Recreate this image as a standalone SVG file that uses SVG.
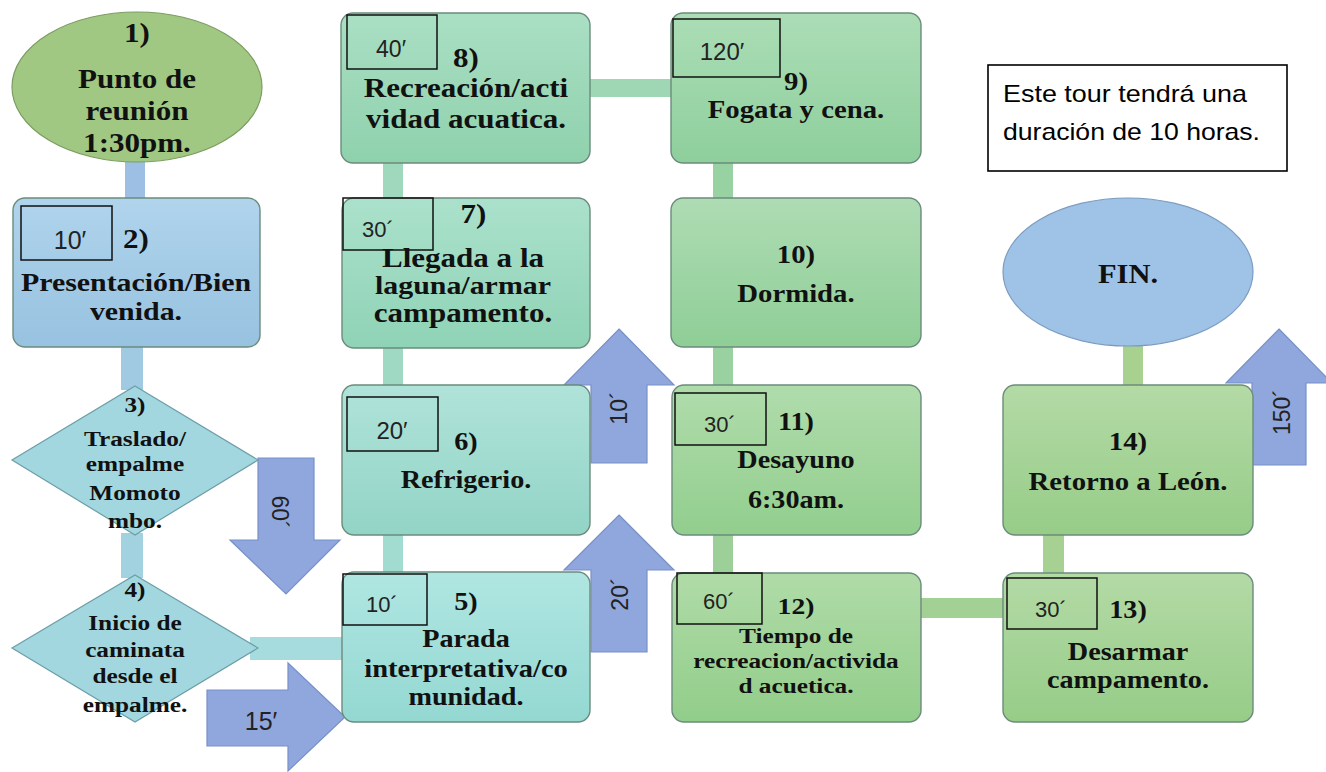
<svg xmlns="http://www.w3.org/2000/svg" width="1326" height="772" viewBox="0 0 1326 772">
<defs>
<linearGradient id="gBlue" x1="0" y1="0" x2="0" y2="1"><stop offset="0" stop-color="#b0d4ec"/><stop offset="1" stop-color="#97c2e0"/></linearGradient>
<linearGradient id="gN5" x1="0" y1="0" x2="0" y2="1"><stop offset="0" stop-color="#b0e6e2"/><stop offset="1" stop-color="#94d8d2"/></linearGradient>
<linearGradient id="gN6" x1="0" y1="0" x2="0" y2="1"><stop offset="0" stop-color="#b0e3d9"/><stop offset="1" stop-color="#92d4c6"/></linearGradient>
<linearGradient id="gN7" x1="0" y1="0" x2="0" y2="1"><stop offset="0" stop-color="#abe1cc"/><stop offset="1" stop-color="#8fd3b6"/></linearGradient>
<linearGradient id="gN8" x1="0" y1="0" x2="0" y2="1"><stop offset="0" stop-color="#aadfc4"/><stop offset="1" stop-color="#8fd1ad"/></linearGradient>
<linearGradient id="gN9" x1="0" y1="0" x2="0" y2="1"><stop offset="0" stop-color="#acddb6"/><stop offset="1" stop-color="#8ecf9c"/></linearGradient>
<linearGradient id="gN10" x1="0" y1="0" x2="0" y2="1"><stop offset="0" stop-color="#aedcb3"/><stop offset="1" stop-color="#8fce97"/></linearGradient>
<linearGradient id="gN11" x1="0" y1="0" x2="0" y2="1"><stop offset="0" stop-color="#b0dcac"/><stop offset="1" stop-color="#92ce8e"/></linearGradient>
<linearGradient id="gN12" x1="0" y1="0" x2="0" y2="1"><stop offset="0" stop-color="#b0dba8"/><stop offset="1" stop-color="#92cd8a"/></linearGradient>
<linearGradient id="gN13" x1="0" y1="0" x2="0" y2="1"><stop offset="0" stop-color="#b4daa6"/><stop offset="1" stop-color="#96cc88"/></linearGradient>
</defs>
<style>
.node{stroke:#6b8c7c;stroke-width:1.4}
.dia{fill:#a2d7e0;stroke:#6c9ea8;stroke-width:1.2}
.tbox{fill:none;stroke:#111;stroke-width:1.5}
.t{font-family:"Liberation Serif","Times New Roman",serif;font-weight:bold;fill:#111;text-anchor:middle}
.s{font-family:"Liberation Sans",Arial,sans-serif;fill:#222;text-anchor:middle}
.arr{fill:#8fa7dc;stroke:#7890c9;stroke-width:1.2}
</style>
<rect width="1326" height="772" fill="#ffffff"/>

<g id="connectors">
<rect x="125" y="160" width="20" height="40" fill="#9dbfe3"/>
<rect x="121" y="345" width="22" height="45" fill="#a0c9e2"/>
<rect x="121" y="533" width="22" height="45" fill="#a2d2df"/>
<rect x="250" y="637" width="95" height="23" fill="#a6dcdd"/>
<rect x="383" y="533" width="20" height="41" fill="#a2dbd0"/>
<rect x="383" y="345" width="20" height="42" fill="#9fd9c4"/>
<rect x="383" y="160" width="20" height="40" fill="#9fd8bd"/>
<rect x="588" y="79" width="85" height="18" fill="#9fd7b4"/>
<rect x="713" y="160" width="20" height="40" fill="#98d2a3"/>
<rect x="713" y="345" width="20" height="42" fill="#9ad1a0"/>
<rect x="713" y="533" width="20" height="42" fill="#9dd098"/>
<rect x="919" y="598" width="86" height="20" fill="#a2d095"/>
<rect x="1043" y="533" width="21" height="42" fill="#a6d192"/>
<rect x="1123" y="343" width="20" height="44" fill="#a8d08e"/>
</g>

<g id="duration-arrows">
<g id="arrow-60"><polygon class="arr" points="258,458 314,458 314,540 340,540 286,594 230,540 258,540"/>
<text class="s" font-size="23" transform="translate(280,512) rotate(90)" dominant-baseline="central">60´</text></g>
<g id="arrow-15"><polygon class="arr" points="207,690 288,690 288,663 345,717 288,771 288,746 207,746"/>
<text class="s" font-size="25" x="261" y="730">15′</text></g>
<g id="arrow-10"><polygon class="arr" points="619,329 674,385 647,385 647,463 591,463 591,385 564,385"/>
<text class="s" font-size="23" transform="translate(619,408) rotate(-90)" dominant-baseline="central">10´</text></g>
<g id="arrow-20"><polygon class="arr" points="619,515 674,570 647,570 647,652 591,652 591,570 564,570"/>
<text class="s" font-size="23" transform="translate(620,594) rotate(-90)" dominant-baseline="central">20´</text></g>
<g id="arrow-150"><polygon class="arr" points="1279,329 1332,383 1306,383 1306,465 1252,465 1252,383 1226,383"/>
<text class="s" font-size="23" transform="translate(1282,412) rotate(-90)" dominant-baseline="central">150´</text></g>
</g>

<g id="node1">
<ellipse cx="137" cy="87" rx="125" ry="75" fill="#a1c882" stroke="#7c9c62" stroke-width="1.2"/>
<g transform="matrix(1.15 0 0 1 -20.55 0)">
<text class="t" font-size="27" x="137" y="42">1)</text>
<text class="t" font-size="27" x="137" y="88">Punto de</text>
<text class="t" font-size="27" x="137" y="120">reunión</text>
<text class="t" font-size="27" x="137" y="152">1:30pm.</text>
</g></g>

<g id="node2">
<rect class="node" x="13" y="198" width="247" height="149" rx="12" fill="url(#gBlue)"/>
<rect class="tbox" x="21" y="206" width="91" height="54"/>
<text class="s" font-size="25" x="70" y="249">10′</text>
<g transform="matrix(1.15 0 0 1 -20.4 0)">
<text class="t" font-size="27" x="136" y="248">2)</text>
<text class="t" font-size="26" x="136" y="291">Presentación/Bien</text>
<text class="t" font-size="26" x="136" y="320">venida.</text>
</g></g>

<g id="node3">
<polygon class="dia" points="135,386 258,460 135,535 12,460"/>
<g transform="matrix(1.15 0 0 1 -20.25 0)">
<text class="t" font-size="22" x="135" y="412">3)</text>
<text class="t" font-size="22" x="135" y="446">Traslado/</text>
<text class="t" font-size="22" x="135" y="471">empalme</text>
<text class="t" font-size="22" x="135" y="500">Momoto</text>
<text class="t" font-size="22" x="135" y="528">mbo.</text>
</g></g>

<g id="node4">
<polygon class="dia" points="135,575 258,648 135,722 12,648"/>
<g transform="matrix(1.15 0 0 1 -20.25 0)">
<text class="t" font-size="22" x="135" y="597">4)</text>
<text class="t" font-size="22" x="135" y="630">Inicio de</text>
<text class="t" font-size="22" x="135" y="657">caminata</text>
<text class="t" font-size="22" x="135" y="683">desde el</text>
<text class="t" font-size="22" x="135" y="712">empalme.</text>
</g></g>

<g id="node5">
<rect class="node" x="342" y="572" width="248" height="150" rx="12" fill="url(#gN5)"/>
<rect class="tbox" x="343" y="574" width="84" height="51"/>
<text class="s" font-size="22" x="382" y="612">10´</text>
<g transform="matrix(1.15 0 0 1 -69.9 0)">
<text class="t" font-size="24.5" x="466" y="610">5)</text>
<text class="t" font-size="24.5" x="466" y="647">Parada</text>
<text class="t" font-size="24.5" x="466" y="677" textLength="177" lengthAdjust="spacingAndGlyphs">interpretativa/co</text>
<text class="t" font-size="24.5" x="466" y="705">munidad.</text>
</g></g>

<g id="node6">
<rect class="node" x="342" y="385" width="248" height="150" rx="12" fill="url(#gN6)"/>
<rect class="tbox" x="347" y="397" width="91" height="54"/>
<text class="s" font-size="24" x="392" y="439">20′</text>
<g transform="matrix(1.15 0 0 1 -69.9 0)">
<text class="t" font-size="24.5" x="466" y="450">6)</text>
<text class="t" font-size="24.5" x="466" y="488">Refrigerio.</text>
</g></g>

<g id="node7">
<rect class="node" x="342" y="198" width="248" height="150" rx="12" fill="url(#gN7)"/>
<rect class="tbox" x="343" y="198" width="90" height="52"/>
<text class="s" font-size="22" x="378" y="237">30´</text>
<g transform="matrix(1.15 0 0 1 -69.45 0)">
<text class="t" font-size="27" x="472" y="223">7)</text>
<text class="t" font-size="27" x="463" y="267">Llegada a la</text>
<text class="t" font-size="26" x="463" y="294">laguna/armar</text>
<text class="t" font-size="27" x="463" y="322">campamento.</text>
</g></g>

<g id="node8">
<rect class="node" x="341" y="13" width="249" height="150" rx="12" fill="url(#gN8)"/>
<rect class="tbox" x="347" y="15" width="90" height="54"/>
<text class="s" font-size="23" x="391" y="57">40′</text>
<g transform="matrix(1.15 0 0 1 -69.9 0)">
<text class="t" font-size="27" x="466" y="67">8)</text>
<text class="t" font-size="27" x="466" y="97">Recreación/acti</text>
<text class="t" font-size="27" x="466" y="128">vidad acuatica.</text>
</g></g>

<g id="node9">
<rect class="node" x="671" y="13" width="250" height="150" rx="12" fill="url(#gN9)"/>
<rect class="tbox" x="673" y="19" width="107" height="58"/>
<text class="s" font-size="24" x="722" y="60">120′</text>
<g transform="matrix(1.15 0 0 1 -119.4 0)">
<text class="t" font-size="25" x="796" y="90">9)</text>
<text class="t" font-size="25" x="796" y="118">Fogata y cena.</text>
</g></g>

<g id="node10">
<rect class="node" x="671" y="198" width="250" height="149" rx="12" fill="url(#gN10)"/>
<g transform="matrix(1.15 0 0 1 -119.4 0)">
<text class="t" font-size="25" x="796" y="263">10)</text>
<text class="t" font-size="25" x="796" y="302">Dormida.</text>
</g></g>

<g id="node11">
<rect class="node" x="672" y="385" width="249" height="150" rx="12" fill="url(#gN11)"/>
<rect class="tbox" x="675" y="393" width="91" height="52"/>
<text class="s" font-size="22" x="720" y="432">30´</text>
<g transform="matrix(1.15 0 0 1 -119.4 0)">
<text class="t" font-size="24.5" x="796" y="430">11)</text>
<text class="t" font-size="24.5" x="796" y="468">Desayuno</text>
<text class="t" font-size="24.5" x="796" y="508">6:30am.</text>
</g></g>

<g id="node12">
<rect class="node" x="672" y="573" width="249" height="149" rx="12" fill="url(#gN12)"/>
<rect class="tbox" x="677" y="573" width="85" height="51"/>
<text class="s" font-size="22" x="719" y="609">60´</text>
<g transform="matrix(1.15 0 0 1 -119.4 0)">
<text class="t" font-size="24" x="796" y="614">12)</text>
<text class="t" font-size="22" x="796" y="643">Tiempo de</text>
<text class="t" font-size="22" x="796" y="668">recreacion/activida</text>
<text class="t" font-size="22" x="796" y="693">d acuetica.</text>
</g></g>

<g id="node13">
<rect class="node" x="1003" y="573" width="250" height="149" rx="12" fill="url(#gN13)"/>
<rect class="tbox" x="1007" y="578" width="90" height="51"/>
<text class="s" font-size="22" x="1051" y="617">30´</text>
<g transform="matrix(1.15 0 0 1 -169.2 0)">
<text class="t" font-size="24.5" x="1128" y="618">13)</text>
<text class="t" font-size="24.5" x="1128" y="660">Desarmar</text>
<text class="t" font-size="24.5" x="1128" y="688">campamento.</text>
</g></g>

<g id="node14">
<rect class="node" x="1003" y="385" width="250" height="150" rx="12" fill="url(#gN13)"/>
<g transform="matrix(1.15 0 0 1 -169.2 0)">
<text class="t" font-size="25" x="1128" y="450">14)</text>
<text class="t" font-size="25" x="1128" y="490">Retorno a León.</text>
</g></g>

<g id="fin">
<ellipse cx="1128" cy="272" rx="125" ry="74" fill="#9fc3e7" stroke="#7b9cc0" stroke-width="1.2"/>
<g transform="matrix(1.15 0 0 1 -169.2 0)">
<text class="t" font-size="26.5" x="1128" y="283">FIN.</text>
</g></g>

<g id="note">
<rect x="988" y="65" width="299" height="106" fill="#ffffff" stroke="#000" stroke-width="1.6"/>
<text font-family="Liberation Sans, Arial, sans-serif" font-size="24" fill="#000" x="1003" y="102" textLength="244" lengthAdjust="spacingAndGlyphs">Este tour tendrá una</text>
<text font-family="Liberation Sans, Arial, sans-serif" font-size="24" fill="#000" x="1003" y="140" textLength="257" lengthAdjust="spacingAndGlyphs">duración de 10 horas.</text>
</g>
</svg>
